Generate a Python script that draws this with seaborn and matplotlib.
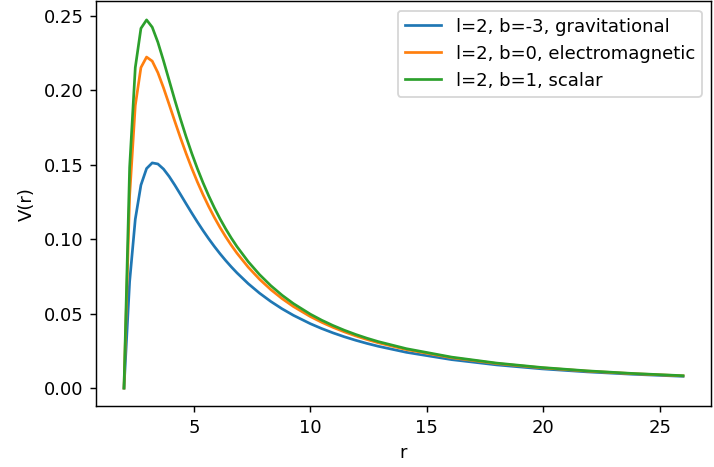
import numpy as np
import pandas as pd
import matplotlib
matplotlib.use("Agg")
import matplotlib.pyplot as plt
import seaborn as sns

# Radial coordinate samples (denser near the potential peak)
r = [2.0, 2.24242, 2.48485, 2.72727, 2.96970, 3.21212, 3.45455, 3.69697,
     3.93939, 4.18182, 4.42424, 4.66667, 4.90909, 5.15152, 5.39394, 5.63636,
     5.87879, 6.12121, 6.36364, 6.60606, 6.84848, 7.33333, 7.81818, 8.30303,
     8.78788, 9.27273, 10.0, 10.48485, 10.9697, 11.45455, 11.9394, 12.42424,
     12.9091, 14.1212, 16.0606, 18.0, 19.9394, 21.8788, 23.8182, 26.0]

# Potential values for each perturbation type
v_grav = [0.0, 0.071470, 0.113303, 0.136238, 0.147347, 0.151126, 0.150413,
          0.147001, 0.142022, 0.136203, 0.129997, 0.123699, 0.117485,
          0.111465, 0.105703, 0.100232, 0.095063, 0.090198, 0.085632,
          0.081353, 0.077342, 0.070078, 0.063707, 0.058111, 0.053182,
          0.048829, 0.043200, 0.039956, 0.037054, 0.034449, 0.032106,
          0.029988, 0.028069, 0.023999, 0.019096, 0.015547, 0.012897,
          0.010868, 0.009281, 0.007878]
v_em = [0.0, 0.128995, 0.189609, 0.215111, 0.222152, 0.219443, 0.211693,
        0.201506, 0.190340, 0.179009, 0.167962, 0.157434, 0.147538,
        0.138314, 0.129759, 0.121849, 0.114548, 0.107811, 0.101598,
        0.095863, 0.090568, 0.081142, 0.073050, 0.066068, 0.060011,
        0.054730, 0.048000, 0.044168, 0.040770, 0.037745, 0.035040,
        0.032613, 0.030427, 0.025827, 0.020364, 0.016461, 0.013577,
        0.011388, 0.009688, 0.008193]
v_scalar = [0.0, 0.148171, 0.215044, 0.241402, 0.247088, 0.242216, 0.232119,
            0.219674, 0.206446, 0.193277, 0.180617, 0.168679, 0.157556,
            0.147264, 0.137777, 0.129055, 0.121043, 0.113682, 0.106919,
            0.100700, 0.094977, 0.084830, 0.076164, 0.068720, 0.062288,
            0.056697, 0.049600, 0.045572, 0.042009, 0.038843, 0.036018,
            0.033488, 0.031213, 0.026437, 0.020787, 0.016766, 0.013804,
            0.011562, 0.009824, 0.008298]

labels = ["l=2, b=-3, gravitational",
          "l=2, b=0, electromagnetic",
          "l=2, b=1, scalar"]

series = [v_grav, v_em, v_scalar]
df = pd.concat(
    [pd.DataFrame({"r": r, "V": v, "case": lab}) for v, lab in zip(series, labels)],
    ignore_index=True,
)

dpi = 130
fig = plt.figure(figsize=(714 / dpi, 467 / dpi), dpi=dpi)
ax = fig.add_axes([0.1345, 0.1296, 0.8613, 0.8672])

palette = ["#1f77b4", "#ff7f0e", "#2ca02c"]
sns.lineplot(data=df, x="r", y="V", hue="case", hue_order=labels,
             palette=palette, estimator=None, sort=False,
             linewidth=1.5, ax=ax)

ax.set_xlabel("r")
ax.set_ylabel("V(r)")
ax.legend(loc="upper right", title=None)

fig.savefig("out.png", dpi=dpi)
